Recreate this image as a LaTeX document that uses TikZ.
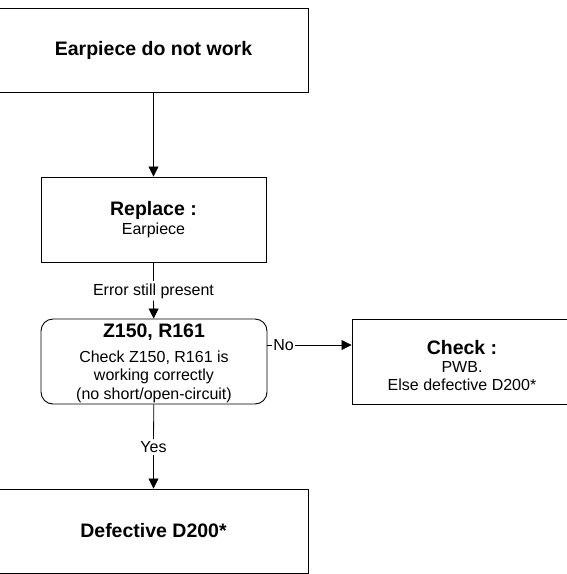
\documentclass[tikz,border=0pt]{standalone}
\usepackage{fontspec}
\setmainfont{Liberation Sans}
\usetikzlibrary{arrows.meta}
\tikzset{
  box/.style={draw=black, line width=0.9pt, inner sep=0pt, align=center, font=\fontsize{16}{18.3}\selectfont},
  roundbox/.style={box, rounded corners=12pt},
  lbl/.style={inner sep=2pt, font=\fontsize{16}{18}\selectfont},
  flow/.style={line width=0.8pt, -{Triangle[length=10pt,width=10pt]}},
  plain/.style={line width=0.8pt}
}
\newcommand{\ttl}[1]{{\fontsize{19.5}{22}\selectfont\bfseries #1}}
\begin{document}
\begin{tikzpicture}[x=1pt,y=-1pt]
  \useasboundingbox (0,0) rectangle (566,574);
  % start and end boxes are wider than the steps between them
  \node[box, minimum width=310pt, minimum height=84pt] (start) at (153.5,50) {\ttl{Earpiece do not work}};
  \node[box, minimum width=225pt, minimum height=85pt] (repl) at (153.5,219.5) {\ttl{Replace :}\\Earpiece};
  \node[roundbox, minimum width=226pt, minimum height=85pt] (chk) at (154,361.5) {\ttl{\rule{0pt}{17pt}Z150, R161}\\[7pt]Check Z150, R161 is\\working correctly\\(no short/open-circuit)};
  \node[box, minimum width=220pt, minimum height=85pt] (pwb) at (462,361.5) {\ttl{\rule{0pt}{22pt}Check :}\\PWB.\\Else defective D200*};
  \node[box, minimum width=310pt, minimum height=84pt] (def) at (153.5,531) {\ttl{Defective D200*}};

  \node[lbl] (err) at (153.5,291) {Error still present};
  \node[lbl, inner sep=1pt] (no) at (283.5,345) {No};
  \node[lbl] (yes) at (153.5,447) {Yes};

  \draw[flow] (start) -- (repl);
  \draw[plain] (repl) -- (err);
  \draw[flow] (err) -- (chk);
  \draw[plain] (chk.east |- no) -- (no);
  \draw[flow] (no) -- (pwb.west |- no);
  \draw[plain] (chk) -- (yes);
  \draw[flow] (yes) -- (def);
\end{tikzpicture}
\end{document}
